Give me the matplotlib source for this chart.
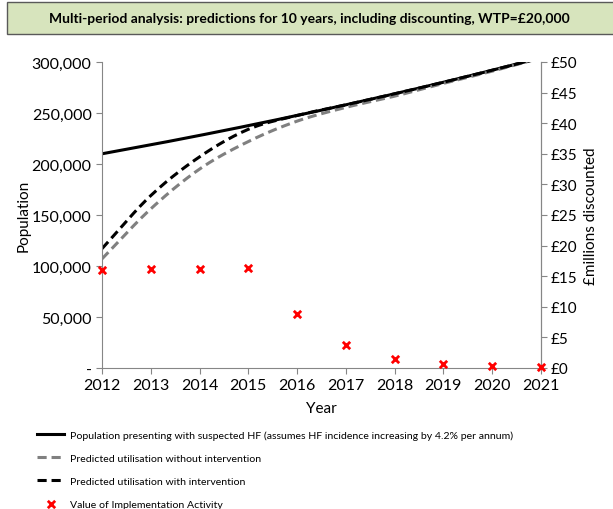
import numpy as np
import matplotlib
matplotlib.use('Agg')
import matplotlib.pyplot as plt
from matplotlib.patches import Rectangle
from matplotlib.ticker import FuncFormatter

plt.rcParams['font.family'] = ['Lato', 'DejaVu Sans']

# data
years = [2012, 2013, 2014, 2015, 2016, 2017, 2018, 2019, 2020, 2021]
population = [210000, 218800, 228000, 237600, 247600, 258000, 268800, 280100, 291900, 304100]
without_int = [107000, 156000, 195000, 222000, 242000, 255500, 266500, 279000, 291000, 304000]
with_int = [117000, 169000, 207000, 234000, 247600, 258000, 268800, 280100, 291900, 304100]
value_impl = [16.0, 16.1, 16.2, 16.3, 8.8, 3.8, 1.5, 0.65, 0.3, 0.1]  # £ millions

title = 'Multi-period analysis: predictions for 10 years, including discounting, WTP=£20,000'
labels = ['Population presenting with suspected HF (assumes HF incidence increasing by 4.2% per annum)',
          'Predicted utilisation without intervention',
          'Predicted utilisation with intervention',
          'Value of Implementation Activity']


def smooth(x, y, n=20):
    # Catmull-Rom style smoothing, like Excel's smoothed line
    x = np.asarray(x, float)
    y = np.asarray(y, float)
    px = np.concatenate([[2 * x[0] - x[1]], x, [2 * x[-1] - x[-2]]])
    py = np.concatenate([[2 * y[0] - y[1]], y, [2 * y[-1] - y[-2]]])
    xs, ys = [], []
    for i in range(1, len(px) - 2):
        t = np.linspace(0, 1, n, endpoint=False)
        for arr, out in ((px, xs), (py, ys)):
            p0, p1, p2, p3 = arr[i - 1], arr[i], arr[i + 1], arr[i + 2]
            out.extend(0.5 * ((2 * p1) + (-p0 + p2) * t
                              + (2 * p0 - 5 * p1 + 4 * p2 - p3) * t ** 2
                              + (-p0 + 3 * p1 - 3 * p2 + p3) * t ** 3))
    xs.append(x[-1])
    ys.append(y[-1])
    return np.array(xs), np.array(ys)


fig = plt.figure(figsize=(6.13, 5.10), dpi=100)
ax = fig.add_axes([0.1664, 0.2765, 0.716, 0.600])
ax2 = ax.twinx()

spine_col = '#868686'

ax.plot(*smooth(years, population), color='black', lw=2.2, label=labels[0])
ax.plot(*smooth(years, without_int), color='#808080', lw=2.2, ls=(0, (3, 1.6)), label=labels[1])
ax.plot(*smooth(years, with_int), color='black', lw=2.2, ls=(0, (3, 1.6)), label=labels[2])
ax2.scatter(years, value_impl, marker='x', color='red', s=28, linewidths=2.0,
            label=labels[3], zorder=5, clip_on=False)

ax.set_xlim(2012, 2021)
ax.set_ylim(0, 300000)
ax2.set_ylim(0, 50)
ax.set_xticks(years)
ax.set_yticks(np.arange(0, 300001, 50000))
ax2.set_yticks(np.arange(0, 51, 5))
ax.yaxis.set_major_formatter(FuncFormatter(lambda v, p: '-' if v == 0 else f'{int(v):,}'))
ax2.yaxis.set_major_formatter(FuncFormatter(lambda v, p: f'£{int(v)}'))

for a in (ax, ax2):
    a.spines['top'].set_visible(False)
    for s in ('left', 'right', 'bottom'):
        a.spines[s].set_color(spine_col)
    a.tick_params(colors=spine_col, labelcolor='black', labelsize=11.5, length=4)
ax2.tick_params(labelsize=11, pad=3)
ax2.spines['left'].set_visible(False)
ax2.spines['bottom'].set_visible(False)

ax.set_xlabel('Year', fontsize=11, labelpad=6)
ax.set_ylabel('Population', fontsize=11)
ax2.set_ylabel('£millions discounted', fontsize=11)
ax.yaxis.set_label_coords(-0.162, 0.5)
ax2.yaxis.set_label_coords(1.098, 0.5)

# title box
fig.patches.append(Rectangle((0.012, 0.932), 1.0, 0.062, transform=fig.transFigure,
                             facecolor='#d7e4bd', edgecolor='#595959', lw=1.0))
fig.text(0.505, 0.963, title, ha='center', va='center', fontsize=10, fontweight='bold')

h1, l1 = ax.get_legend_handles_labels()
h2, l2 = ax2.get_legend_handles_labels()
fig.legend(h1 + h2, l1 + l2, loc='upper left', bbox_to_anchor=(0.054, 0.163),
           frameon=False, fontsize=7.55, handlelength=2.55, labelspacing=1.32,
           handletextpad=0.55, borderaxespad=0)

fig.savefig('out.png', dpi=100)
